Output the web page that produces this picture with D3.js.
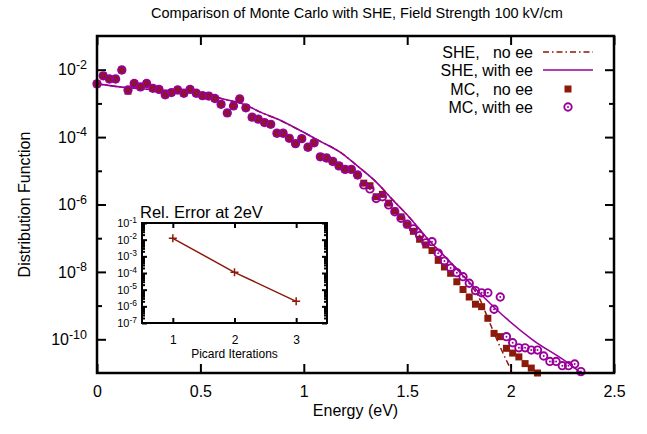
<!DOCTYPE html>
<html>
<head>
<meta charset="utf-8">
<script src="https://cdn.jsdelivr.net/npm/d3@7"></script>
<style>
body { margin: 0; background: #fff; }
text { font-family: "Liberation Sans", Arial, sans-serif; fill: #000; }
</style>
</head>
<body>
<svg id="chart" width="647" height="434"></svg>
<script>
// ---- data ----
var energy = [0, 0.03, 0.06, 0.09, 0.12, 0.15, 0.18, 0.21, 0.24, 0.27,
  0.30, 0.33, 0.36, 0.39, 0.42, 0.45, 0.48, 0.51, 0.54, 0.57,
  0.60, 0.63, 0.66, 0.69, 0.72, 0.75, 0.78, 0.81, 0.84, 0.87,
  0.90, 0.93, 0.96, 0.99, 1.02, 1.05, 1.08, 1.11, 1.14, 1.17,
  1.20, 1.23, 1.26, 1.29, 1.32, 1.35, 1.38, 1.41, 1.44, 1.47,
  1.50, 1.53, 1.56, 1.59, 1.62, 1.65, 1.68, 1.71, 1.74, 1.77,
  1.80, 1.83, 1.86, 1.89, 1.92, 1.95, 1.98, 2.01, 2.04, 2.07,
  2.10, 2.13, 2.16, 2.19, 2.22, 2.25, 2.28, 2.31, 2.34]

var mcWithEE = [3.8e-3, 6.6e-3, 5.3e-3, 5.3e-3, 9.8e-3, 2.5e-3, 3.9e-3, 3.1e-3, 3.9e-3, 2.8e-3,
  2.6e-3, 1.8e-3, 2.1e-3, 2.5e-3, 2.0e-3, 2.6e-3, 2.0e-3, 1.7e-3, 1.65e-3, 1.4e-3,
  9.4e-4, 5.2e-4, 8.4e-4, 1.35e-3, 7.4e-4, 3.9e-4, 3.4e-4, 2.7e-4, 2.4e-4, 1.3e-4,
  1.3e-4, 9.2e-5, 6.4e-5, 9.0e-5, 5.0e-5, 6.8e-5, 2.6e-5, 2.4e-5, 1.9e-5, 1.4e-5,
  1.1e-5, 1.1e-5, 7.5e-6, 3.8e-6, 2.9e-6, 1.5e-6, 1.7e-6, 9.7e-7, 6.1e-7, 3.9e-7,
  2.6e-7, 1.9e-7, 1.2e-7, 7.3e-8, 7.9e-8, 3.6e-8, 2.1e-8, 1.3e-8, 9.5e-9, 7.2e-9,
  4.6e-9, 2.8e-9, 2.4e-9, 2.4e-9, 7.8e-10, 1.8e-9, 1.2e-10, 7.9e-11, 5.6e-11, 5.6e-11,
  4.8e-11, 4.8e-11, 3.2e-11, 2.2e-11, 2.2e-11, 1.65e-11, 1.65e-11, 1.85e-11, 1.1e-11]

var mcNoEE = [3.8e-3, 6.6e-3, 5.3e-3, 5.3e-3, 9.8e-3, 2.3e-3, 3.9e-3, 3.1e-3, 3.9e-3, 2.8e-3,
  2.6e-3, 1.8e-3, 2.1e-3, 2.5e-3, 2.0e-3, 2.6e-3, 2.0e-3, 1.7e-3, 1.65e-3, 1.4e-3,
  9.4e-4, 5.2e-4, 8.4e-4, 1.35e-3, 7.4e-4, 3.9e-4, 3.4e-4, 2.7e-4, 2.4e-4, 1.3e-4,
  1.3e-4, 9.2e-5, 6.4e-5, 9.0e-5, 5.0e-5, 6.8e-5, 2.6e-5, 2.4e-5, 1.9e-5, 1.4e-5,
  1.1e-5, 1.1e-5, 7.5e-6, 4.3e-6, 3.6e-6, 1.7e-6, 2.0e-6, 1.1e-6, 6.4e-7, 4.3e-7,
  2.5e-7, 1.6e-7, 9.3e-8, 6.3e-8, 4.3e-8, 2.2e-8, 1.4e-8, 9.1e-9, 5.1e-9, 3.0e-9,
  1.8e-9, 1.1e-9, 9.3e-10, 4.2e-10, 1.5e-10, 1.2e-10, 5.4e-11, 3.9e-11, 3.0e-11, 1.9e-11,
  1.4e-11, 1.0e-11]

var sheEnergyWithEE = [0, 0.15, 0.3, 0.5, 0.6, 0.72, 0.787, 0.884, 0.98, 1.078, 1.175,
  1.272, 1.354, 1.431, 1.513, 1.596, 1.7, 1.789, 1.934, 2.108, 2.272, 2.335]
var sheWithEE = [3.8e-3, 2.9e-3, 2.5e-3, 2.0e-3, 1.4e-3, 8.9e-4, 5.6e-4, 3.2e-4, 1.6e-4, 7.6e-5, 3.6e-5,
  1.2e-5, 4.4e-6, 1.35e-6, 4.0e-7, 1.0e-7, 2.2e-8, 5.8e-9, 7.4e-10, 9.5e-11, 2.1e-11, 1.07e-11]

var sheEnergyNoEE = [0, 0.15, 0.3, 0.5, 0.6, 0.72, 0.787, 0.884, 0.98, 1.078, 1.175,
  1.272, 1.354, 1.431, 1.513, 1.596, 1.7, 1.789, 1.852, 1.9, 1.949, 2.01]
var sheNoEE = [3.8e-3, 2.9e-3, 2.5e-3, 2.0e-3, 1.4e-3, 8.9e-4, 5.6e-4, 3.2e-4, 1.6e-4, 7.6e-5, 3.6e-5,
  1.2e-5, 4.4e-6, 1.35e-6, 4.0e-7, 1.0e-7, 2.2e-8, 5.8e-9, 1.5e-9, 3.0e-10, 6.0e-11, 1.0e-11]

var xTicks = [0, 0.5, 1, 1.5, 2, 2.5]
var xTickLabels = ["0", "0.5", "1", "1.5", "2", "2.5"]
var yTicks = [1e-2, 1e-4, 1e-6, 1e-8, 1e-10]
var yTickExp = ["-2", "-4", "-6", "-8", "-10"]
var yMinorTicks = [1e-3, 1e-5, 1e-7, 1e-9]

var legendLabels = ["SHE,   no ee", "SHE, with ee", "MC,   no ee", "MC, with ee"]

// inset: relative error at 2 eV
var picardIter = [1, 2, 3]
var relError = [1.2e-2, 1.1e-4, 2.0e-6]
var insetYTicks = [1e-1, 1e-2, 1e-3, 1e-4, 1e-5, 1e-6, 1e-7]
var insetYExp = ["-1", "-2", "-3", "-4", "-5", "-6", "-7"]

var red = "#8b1a0a"
var purple = "#990099"

const svg = d3.select("#chart")

const pL = 97, pR = 614, pT = 36, pB = 373

var x = d3.scaleLinear().domain([0, 2.5]).range([pL, pR])
var y = d3.scaleLog().domain([1e-11, 1e-1]).range([pB, pT])

function styleAxis(g, fs) {
  g.select(".domain").remove()
  g.selectAll(".tick line").attr("stroke", "#000").attr("stroke-width", 2)
  g.selectAll(".tick text").attr("font-size", fs).attr("fill", "#000")
  g.attr("font-family", null)
}

function supLabels(g, exps, supSize) {
  g.selectAll(".tick text").each(function (d, i) {
    var t = d3.select(this)
    t.text(null)
    t.append("tspan").text("10")
    t.append("tspan").attr("dy", "-0.5em").attr("font-size", supSize).text(exps[i])
  })
}

// x axes (bottom with labels, top mirror)
svg.append("g")
  .attr("transform", "translate(0," + pB + ")")
  .call(d3.axisBottom(x).tickValues(xTicks).tickSize(-9).tickPadding(13).tickFormat(function (d, i) { return xTickLabels[i] }))
  .call(styleAxis, "16px")
svg.append("g")
  .attr("transform", "translate(0," + pT + ")")
  .call(d3.axisTop(x).tickValues(xTicks).tickSize(-9).tickFormat(""))
  .call(styleAxis, "16px")

// y axes
var gy = svg.append("g")
  .attr("transform", "translate(" + pL + ",0)")
  .call(d3.axisLeft(y).tickValues(yTicks).tickSize(-9).tickPadding(10))
  .call(styleAxis, "16px")
supLabels(gy, yTickExp, "12.5px")
svg.append("g")
  .attr("transform", "translate(" + pL + ",0)")
  .call(d3.axisLeft(y).tickValues(yMinorTicks).tickSize(-5).tickFormat(""))
  .call(styleAxis, "16px")
svg.append("g")
  .attr("transform", "translate(" + pR + ",0)")
  .call(d3.axisRight(y).tickValues(yTicks).tickSize(-9).tickFormat(""))
  .call(styleAxis, "16px")
svg.append("g")
  .attr("transform", "translate(" + pR + ",0)")
  .call(d3.axisRight(y).tickValues(yMinorTicks).tickSize(-5).tickFormat(""))
  .call(styleAxis, "16px")

// clip for curves
svg.append("clipPath").attr("id", "plotclip")
  .append("rect").attr("x", pL).attr("y", pT).attr("width", pR - pL).attr("height", pB - pT)

var line = d3.line()
  .x(function (d) { return x(d[0]) })
  .y(function (d) { return y(d[1]) })
  .curve(d3.curveMonotoneX)

svg.append("path")
  .datum(d3.zip(sheEnergyNoEE, sheNoEE))
  .attr("clip-path", "url(#plotclip)")
  .attr("d", line)
  .attr("fill", "none")
  .attr("stroke", red)
  .attr("stroke-width", 1.5)
  .attr("stroke-dasharray", "6,3,1.5,3")

svg.append("path")
  .datum(d3.zip(sheEnergyWithEE, sheWithEE))
  .attr("clip-path", "url(#plotclip)")
  .attr("d", line)
  .attr("fill", "none")
  .attr("stroke", purple)
  .attr("stroke-width", 1.6)

// MC no ee: filled squares
svg.append("g")
  .selectAll("rect")
  .data(d3.zip(energy.slice(0, mcNoEE.length), mcNoEE))
  .enter()
  .append("rect")
  .attr("x", function (d) { return x(d[0]) - 3.5 })
  .attr("y", function (d) { return y(d[1]) - 3.5 })
  .attr("width", 7)
  .attr("height", 7)
  .attr("fill", red)

// MC with ee: circle with dot
var circ = svg.append("g")
  .selectAll("g")
  .data(d3.zip(energy, mcWithEE))
  .enter()
  .append("g")
  .attr("transform", function (d) { return "translate(" + x(d[0]) + "," + y(d[1]) + ")" })
circ.append("circle").attr("r", 3.7).attr("fill", "none").attr("stroke", purple).attr("stroke-width", 1.9)
circ.append("circle").attr("r", 1).attr("fill", purple)

// frame
svg.append("rect")
  .attr("x", pL).attr("y", pT)
  .attr("width", pR - pL).attr("height", pB - pT)
  .attr("fill", "none").attr("stroke", "#000").attr("stroke-width", 2.5)

// labels
svg.append("text")
  .attr("x", 357).attr("y", 18)
  .attr("text-anchor", "middle")
  .attr("font-size", "14.5px")
  .text("Comparison of Monte Carlo with SHE, Field Strength 100 kV/cm")

svg.append("text")
  .attr("x", (pL + pR) / 2).attr("y", 416)
  .attr("text-anchor", "middle")
  .attr("font-size", "16px")
  .text("Energy (eV)")

svg.append("text")
  .attr("transform", "translate(30," + ((pT + pB) / 2) + ") rotate(-90)")
  .attr("text-anchor", "middle")
  .attr("font-size", "16px")
  .text("Distribution Function")

// legend
var legendY = [52, 70, 89, 107]
var lg = svg.append("g")
legendLabels.forEach(function (lab, i) {
  lg.append("text")
    .attr("x", 533).attr("y", legendY[i] + 6)
    .attr("text-anchor", "end")
    .attr("font-size", "16px")
    .style("white-space", "pre")
    .text(lab)
})
lg.append("line").attr("x1", 543).attr("x2", 593).attr("y1", legendY[0]).attr("y2", legendY[0])
  .attr("stroke", red).attr("stroke-width", 1.5).attr("stroke-dasharray", "6,3,1.5,3")
lg.append("line").attr("x1", 543).attr("x2", 593).attr("y1", legendY[1]).attr("y2", legendY[1])
  .attr("stroke", purple).attr("stroke-width", 1.6)
lg.append("rect").attr("x", 568 - 3.5).attr("y", legendY[2] - 3.5).attr("width", 7).attr("height", 7).attr("fill", red)
lg.append("circle").attr("cx", 568).attr("cy", legendY[3]).attr("r", 3.7).attr("fill", "none").attr("stroke", purple).attr("stroke-width", 1.9)
lg.append("circle").attr("cx", 568).attr("cy", legendY[3]).attr("r", 1).attr("fill", purple)

// ---- inset ----
const iL = 142, iR = 327, iT = 223, iB = 323
var ix = d3.scaleLinear().domain([0.5, 3.5]).range([iL, iR])
var iy = d3.scaleLog().domain([1e-7, 1e-1]).range([iB, iT])
var iyMinor = iy.ticks().filter(function (v) { return insetYTicks.indexOf(v) < 0 })

svg.append("rect").attr("x", iL).attr("y", iT).attr("width", iR - iL).attr("height", iB - iT).attr("fill", "#fff")

svg.append("g")
  .attr("transform", "translate(0," + iB + ")")
  .call(d3.axisBottom(ix).tickValues(picardIter).tickSize(-5).tickPadding(12).tickFormat(d3.format("d")))
  .call(styleAxis, "12px")
svg.append("g")
  .attr("transform", "translate(0," + iT + ")")
  .call(d3.axisTop(ix).tickValues(picardIter).tickSize(-5).tickFormat(""))
  .call(styleAxis, "12px")

var giy = svg.append("g")
  .attr("transform", "translate(" + iL + ",0)")
  .call(d3.axisLeft(iy).tickValues(insetYTicks).tickSize(-5).tickPadding(5))
  .call(styleAxis, "11px")
supLabels(giy, insetYExp, "8.5px")
svg.append("g")
  .attr("transform", "translate(" + iL + ",0)")
  .call(d3.axisLeft(iy).tickValues(iyMinor).tickSize(-3).tickFormat(""))
  .call(styleAxis, "11px")
svg.append("g")
  .attr("transform", "translate(" + iR + ",0)")
  .call(d3.axisRight(iy).tickValues(insetYTicks).tickSize(-5).tickFormat(""))
  .call(styleAxis, "11px")
svg.append("g")
  .attr("transform", "translate(" + iR + ",0)")
  .call(d3.axisRight(iy).tickValues(iyMinor).tickSize(-3).tickFormat(""))
  .call(styleAxis, "11px")

svg.append("path")
  .datum(d3.zip(picardIter, relError))
  .attr("d", d3.line().x(function (d) { return ix(d[0]) }).y(function (d) { return iy(d[1]) }))
  .attr("fill", "none").attr("stroke", red).attr("stroke-width", 1.5)

svg.append("g")
  .selectAll("path")
  .data(d3.zip(picardIter, relError))
  .enter()
  .append("path")
  .attr("d", function (d) {
    var px = ix(d[0]), py = iy(d[1])
    return "M" + (px - 4) + "," + py + "H" + (px + 4) + "M" + px + "," + (py - 4) + "V" + (py + 4)
  })
  .attr("stroke", red).attr("stroke-width", 1.5)

svg.append("rect").attr("x", iL).attr("y", iT).attr("width", iR - iL).attr("height", iB - iT)
  .attr("fill", "none").attr("stroke", "#000").attr("stroke-width", 2)

svg.append("text")
  .attr("x", iL - 2).attr("y", iT - 5)
  .attr("font-size", "16.5px")
  .text("Rel. Error at 2eV")

svg.append("text")
  .attr("x", (iL + iR) / 2).attr("y", 358)
  .attr("text-anchor", "middle")
  .attr("font-size", "12px")
  .text("Picard Iterations")
</script>
</body>
</html>
